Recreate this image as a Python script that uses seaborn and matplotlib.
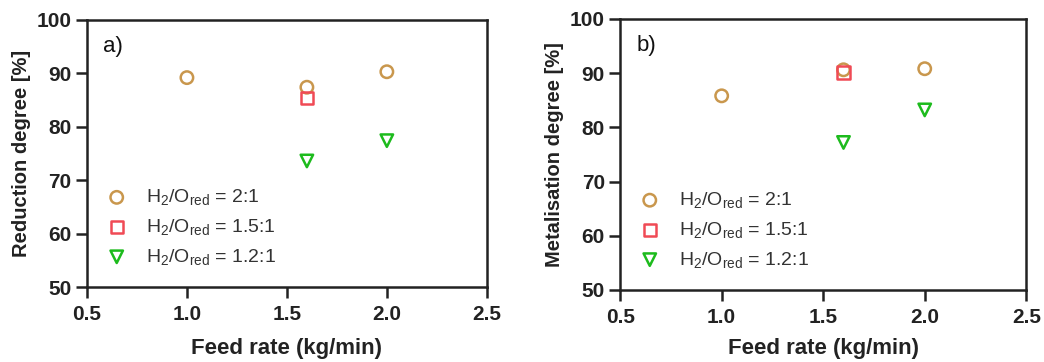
import matplotlib
matplotlib.use("Agg")
import matplotlib.pyplot as plt
import seaborn as sns
import pandas as pd

# Feed rate (kg/min) and measured degrees (%) for each H2/O_red ratio
ratios = ["2:1", "1.5:1", "1.2:1"]

feed_21 = [1.0, 1.6, 2.0]
red_21 = [89.2, 87.4, 90.3]
met_21 = [85.8, 90.6, 90.8]

feed_151 = [1.6]
red_151 = [85.4]
met_151 = [90.1]

feed_121 = [1.6, 2.0]
red_121 = [73.6, 77.4]
met_121 = [77.2, 83.2]

x_ticks = [0.5, 1.0, 1.5, 2.0, 2.5]
y_ticks = [50, 60, 70, 80, 90, 100]

labels = [r"H$_2$/O$_{\rm red}$ = " + r for r in ratios]
colors = ["#C9974D", "#F04A55", "#1DBB1D"]
markers = ["o", "s", "v"]

def frame(feeds, values):
    rows = []
    for lab, f, v in zip(labels, feeds, values):
        for fi, vi in zip(f, v):
            rows.append({"feed": fi, "value": vi, "ratio": lab})
    return pd.DataFrame(rows)

df_red = frame([feed_21, feed_151, feed_121], [red_21, red_151, red_121])
df_met = frame([feed_21, feed_151, feed_121], [met_21, met_151, met_121])

sns.set_theme(style="ticks")
plt.rcParams["font.family"] = ["Liberation Sans", "DejaVu Sans"]
plt.rcParams["mathtext.fontset"] = "custom"
plt.rcParams["mathtext.rm"] = "Liberation Sans"
plt.rcParams["mathtext.it"] = "Liberation Sans"

fig = plt.figure(figsize=(10.44, 3.62), dpi=100)
ax1 = fig.add_axes([0.0833, 0.207, 0.383, 0.738])
ax2 = fig.add_axes([0.594, 0.199, 0.389, 0.749])

panels = [
    (ax1, df_red, "Reduction degree [%]", "a)", 10),
    (ax2, df_met, "Metalisation degree [%]", "b)", 8),
]

for ax, df, ylabel, tag, xpad in panels:
    for lab, col, mk in zip(labels, colors, markers):
        sub = df[df["ratio"] == lab]
        sns.scatterplot(data=sub, x="feed", y="value", ax=ax, marker=mk,
                        s=80, facecolor="none", edgecolor=col,
                        linewidth=1.8, label=lab)
    ax.set_xlim(0.5, 2.5)
    ax.set_ylim(50, 100)
    ax.set_xticks(x_ticks)
    ax.set_yticks(y_ticks)
    ax.set_xticklabels([f"{t:.1f}" for t in x_ticks], fontweight="bold", fontsize=15)
    ax.set_yticklabels([str(t) for t in y_ticks], fontweight="bold", fontsize=15)
    ax.tick_params(direction="out", length=8, width=1.8, color="#222222",
                   labelcolor="#222222", pad=3)
    ax.tick_params(axis="x", pad=5)
    for sp in ax.spines.values():
        sp.set_linewidth(1.8)
        sp.set_color("#222222")
    ax.set_xlabel("Feed rate (kg/min)", fontweight="bold", fontsize=16,
                  color="#222222", labelpad=xpad)
    ax.set_ylabel(ylabel, fontweight="bold", fontsize=14.5, color="#222222",
                  labelpad=4)
    ax.text(0.04, 0.94, tag, transform=ax.transAxes, fontsize=16,
            va="top", ha="left", color="#111111")
    leg = ax.legend(loc="lower left", bbox_to_anchor=(-0.018, 0.01), frameon=False,
                    fontsize=14, handletextpad=0.5, labelspacing=0.5,
                    borderaxespad=0.5)
    for t in leg.get_texts():
        t.set_color("#333333")

fig.savefig("out.png", dpi=100)
